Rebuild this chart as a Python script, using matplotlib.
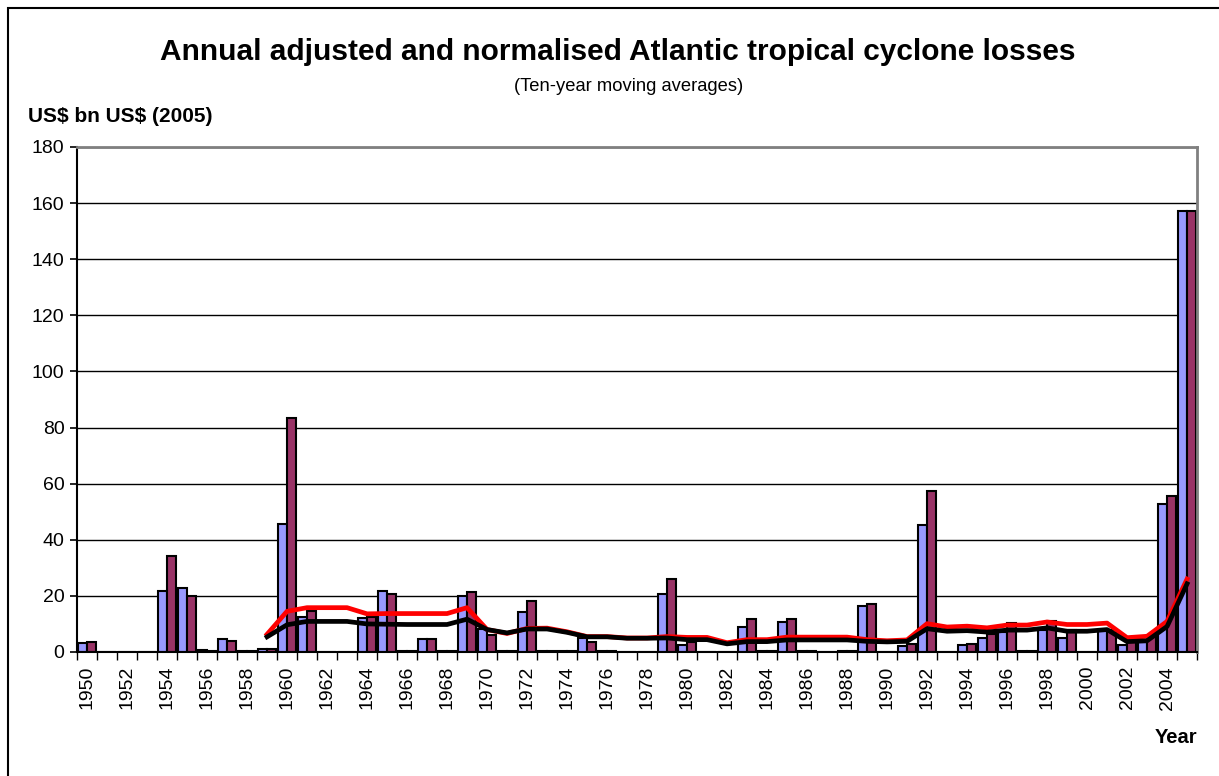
import numpy as np
import matplotlib
matplotlib.use("Agg")
import matplotlib.pyplot as plt
from matplotlib.patches import Rectangle

plt.rcParams['font.family'] = ['Liberation Sans', 'DejaVu Sans']

# === DATA: annual losses, US$ bn ===
years = list(range(1950, 2006))
adjusted = [3.3, 0, 0, 0, 21.8, 22.8, 0.8, 4.5, 0.2, 1.0,
            45.6, 12.6, 0, 0, 12.1, 21.8, 0.2, 4.5, 0.5, 19.8,
            8.1, 0.5, 14.4, 0.3, 0.2, 5.1, 0.3, 0, 0, 20.7,
            2.5, 0, 0, 8.8, 0.3, 10.7, 0.2, 0, 0.5, 16.4,
            0, 2.0, 45.3, 0, 2.4, 5.1, 7.0, 0.3, 8.0, 4.9,
            0, 7.7, 2.4, 3.6, 52.7, 157.3]
normalised = [3.5, 0, 0, 0, 34.3, 20.0, 0.3, 4.0, 0.2, 1.0,
              83.5, 14.7, 0, 0, 12.5, 20.8, 0.2, 4.5, 0.5, 21.4,
              6.1, 0.5, 18.2, 0.3, 0.2, 3.5, 0.3, 0, 0, 26.1,
              3.5, 0, 0, 11.6, 0.3, 11.9, 0.2, 0, 0.5, 17.0,
              0, 3.0, 57.5, 0, 2.9, 6.4, 10.5, 0.3, 10.9, 7.7,
              0, 8.0, 5.1, 5.8, 55.6, 157.3]

# ten-year moving averages, 1959-2005
ma_years = list(range(1959, 2006))
ma_normalised = [6.3, 14.5, 15.8, 15.8, 15.8, 13.6, 13.7, 13.7, 13.7, 13.7,
                 15.8, 8.0, 6.6, 8.4, 8.5, 7.2, 5.5, 5.5, 5.0, 5.0,
                 5.5, 5.2, 5.2, 3.3, 4.4, 4.4, 5.3, 5.3, 5.3, 5.3,
                 4.4, 4.0, 4.3, 10.1, 8.9, 9.2, 8.6, 9.6, 9.6, 10.7,
                 9.8, 9.8, 10.3, 5.1, 5.6, 10.9, 26.0]
ma_adjusted = [5.4, 9.7, 10.9, 10.9, 10.9, 10.0, 9.9, 9.8, 9.8, 9.8,
               11.7, 8.0, 6.8, 8.2, 8.2, 7.0, 5.4, 5.4, 4.9, 4.9,
               5.0, 4.4, 4.4, 2.9, 3.7, 3.7, 4.3, 4.3, 4.3, 4.3,
               3.8, 3.6, 3.8, 8.3, 7.4, 7.6, 7.1, 7.8, 7.8, 8.6,
               7.4, 7.4, 8.0, 3.7, 4.0, 9.1, 24.3]

# === PLOT ===
fig = plt.figure(figsize=(12.19, 7.76), dpi=100)
ax = fig.add_axes([0.0632, 0.1598, 0.9188, 0.6508])

x = np.arange(len(years))
w = 0.44
ax.bar(x - w / 2, adjusted, width=w, color='#9999FF', edgecolor='black', linewidth=1.5, zorder=2)
ax.bar(x + w / 2, normalised, width=w, color='#993366', edgecolor='black', linewidth=1.5, zorder=2)

xm = np.array(ma_years) - years[0]
ax.plot(xm, ma_normalised, color='#FF0000', linewidth=3.4, zorder=3, solid_joinstyle='round')
ax.plot(xm, ma_adjusted, color='black', linewidth=3.4, zorder=4, solid_joinstyle='round')

ax.set_xlim(-0.5, len(years) - 0.5)
ax.set_ylim(0, 180)
ax.set_yticks(range(0, 181, 20))
ax.yaxis.grid(True, color='black', linewidth=1.0)
ax.set_axisbelow(True)
ax.tick_params(axis='y', labelsize=14, length=5, width=1.2, direction='out', pad=4)

# ticks between categories, labels every second year
ax.set_xticks(np.arange(-0.5, len(years), 1.0))
ax.set_xticklabels([])
ax.tick_params(axis='x', which='major', length=6, width=1.0, direction='out')
ax.set_xticks(x[::2], minor=True)
ax.set_xticklabels([str(y) for y in years[::2]], minor=True, rotation=90)
ax.tick_params(axis='x', which='minor', length=0, labelsize=14, pad=10)

for s in ['top', 'right']:
    ax.spines[s].set_color('#808080')
    ax.spines[s].set_linewidth(2)
for s in ['left', 'bottom']:
    ax.spines[s].set_color('black')
    ax.spines[s].set_linewidth(1.5)

fig.text(0.5066, 0.933, 'Annual adjusted and normalised Atlantic tropical cyclone losses',
         ha='center', va='center', fontsize=21.5, fontweight='bold')
fig.text(0.422, 0.888, '(Ten-year moving averages)', ha='left', va='center', fontsize=13.2)
fig.text(0.023, 0.850, 'US\\$ bn US\\$ (2005)', ha='left', va='center', fontsize=15, fontweight='bold')
fig.text(0.982, 0.050, 'Year', ha='right', va='center', fontsize=14.5, fontweight='bold')

# outer chart border
fig.patches.append(Rectangle((8 / 1219, -0.1), 1.2, 1.1 - 8 / 776, transform=fig.transFigure,
                             fill=False, edgecolor='black', linewidth=1.5))

fig.savefig('out.png', dpi=100)
